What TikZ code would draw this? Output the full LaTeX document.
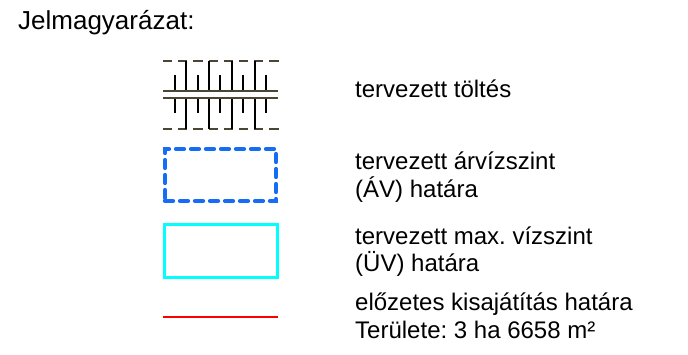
\documentclass[tikz,border=0pt]{standalone}
\usepackage{fontspec}
\setmainfont{Liberation Sans}
\frenchspacing
\definecolor{dikebrown}{RGB}{74,70,51}
\definecolor{avblue}{RGB}{22,108,245}
\definecolor{uvcyan}{RGB}{0,255,255}
\definecolor{lined}{RGB}{255,0,0}
\begin{document}
\begin{tikzpicture}[x=1pt, y=-1pt,
    legtext/.style={anchor=base west, inner sep=0pt, align=left,
      font=\fontsize{24}{27.5}\selectfont},
    dikeline/.style={draw=dikebrown, line width=2.8pt},
    tick/.style={draw=black, line width=1.3pt},
    avbox/.style={draw=avblue, line width=4.2pt, dash pattern=on 8pt off 7pt,
      line cap=round, minimum width=111pt, minimum height=52pt, inner sep=0pt},
    uvbox/.style={draw=uvcyan, line width=3pt,
      minimum width=113pt, minimum height=53pt, inner sep=0pt},
    ]
    \useasboundingbox (0,0) rectangle (688,354);
    \node[legtext, font=\fontsize{26}{28}\selectfont] (title) at (18,29) {Jelmagyarázat:};
    % toltes
    \foreach \i in {0,...,7} {
      \draw[dikeline] (163+15.2*\i,61) -- ++(9.2,0);
      \draw[dikeline] (163+15.2*\i,129) -- ++(9.2,0);
    }
    \foreach \x in {175,198,220,243,266} {
      \draw[tick] (\x,75) -- (\x,91);
      \draw[tick] (\x,98) -- (\x,113);
    }
    \foreach \x in {186,209,232,255} {
      \draw[tick] (\x,61) -- (\x,91);
      \draw[tick] (\x,98) -- (\x,129);
    }
    \draw[dikeline] (163,91) -- (278,91);
    \draw[dikeline] (163,98) -- (278,98);
    \node[legtext] (dike) at (355,97) {tervezett töltés};
    % arvizszint
    \node[avbox] (av) at (220.5,175) {};
    \node[legtext] (avtext) at (355,197) {tervezett árvízszint\\(ÁV) határa};
    % max. vizszint
    \node[uvbox] (uv) at (221,251) {};
    \node[legtext] (uvtext) at (355,271.5) {tervezett max. vízszint\\(ÜV) határa};
    % kisajatitas
    \coordinate (redl) at (163,317);
    \coordinate (redr) at (278,317);
    \draw[lined, line width=2pt] (redl) -- (redr);
    \node[legtext] (redtext) at (355,338) {előzetes kisajátítás határa\\Területe: 3 ha 6658 m²};
  \end{tikzpicture}
\end{document}
